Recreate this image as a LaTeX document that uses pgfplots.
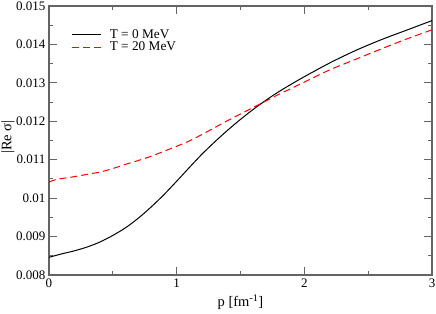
\documentclass[border=0pt]{standalone}
\usepackage{fontspec}
\setmainfont{Liberation Serif}
\usepackage{pgfplots}
\pgfplotsset{compat=1.18}
\pgfplotsset{
  blacklegend/.style={legend image code/.code={\draw[black, line width=1pt] (0pt,0pt) -- (29pt,0pt);}},
  redlegend/.style={legend image code/.code={\draw[red, line width=1pt, dash pattern=on 7pt off 4pt] (0pt,0pt) -- (29pt,0pt);}}
}
\definecolor{framegray}{RGB}{100,100,100}
\begin{document}
\begin{tikzpicture}
\useasboundingbox (-49pt,-38pt) rectangle (387pt,275pt);
\begin{axis}[
  at={(0pt,0pt)}, anchor=south west,
  scale only axis, width=383pt, height=269pt,
  xmin=0, xmax=3, ymin=0.008, ymax=0.015,
  xtick={0,1,2,3}, minor x tick num=1,
  ytick={0.008,0.009,0.010,0.011,0.012,0.013,0.014,0.015},
  yticklabels={0.008,0.009,0.01,0.011,0.012,0.013,0.014,0.015},
  minor y tick num=1,
  scaled y ticks=false,
  tick align=inside,
  major tick length=8pt, minor tick length=4pt,
  axis line style={framegray, line width=1.1pt},
  every tick/.style={framegray, line width=0.9pt},
  /pgf/number format/assume math mode=true,
  tick label style={font=\fontsize{13}{15}\selectfont, text=black},
  xlabel={\fontsize{14.5}{16}\selectfont p [fm\textsuperscript{-1}]},
  ylabel={\fontsize{14.5}{16}\selectfont |Re σ|},
  xlabel style={at={(axis description cs:0.5,-0.1)}, anchor=center},
  ylabel style={at={(axis description cs:-0.107,0.513)}, anchor=center},
  legend style={at={(axis description cs:0.059,0.916)}, anchor=north west,
    draw=none, fill=none, inner sep=0pt,
    font=\fontsize{13.3}{14}\selectfont,
    nodes={inner sep=1pt}, row sep=0pt,
    /tikz/every odd column/.append style={column sep=7pt}},
  legend cell align=left,
]
\addplot[black, line width=1pt, smooth, blacklegend] coordinates {
(0,0.00846) (0.1,0.00855) (0.2,0.00863) (0.3,0.00873) (0.4,0.00886)
(0.5,0.00903) (0.6,0.00923) (0.7,0.00948) (0.8,0.00977) (0.9,0.01009)
(1.0,0.01044) (1.1,0.01080) (1.2,0.01115) (1.3,0.01147) (1.4,0.01177)
(1.5,0.01205) (1.6,0.01231) (1.7,0.01255) (1.8,0.01277) (1.9,0.01297)
(2.0,0.01316) (2.2,0.01352) (2.4,0.01384) (2.6,0.01412) (2.8,0.01437)
(3.0,0.01462)};
\addlegendentry{T = 0 MeV}
\addplot[red, line width=1pt, dash pattern=on 7pt off 4pt, smooth, redlegend] coordinates {
(0,0.01042) (0.05,0.01048) (0.1,0.01051) (0.2,0.01056) (0.3,0.01062)
(0.4,0.01068) (0.5,0.01077) (0.6,0.01088) (0.7,0.01098) (0.8,0.01109)
(0.9,0.01122) (1.0,0.01135) (1.1,0.01149) (1.2,0.01166) (1.3,0.01184)
(1.4,0.01202) (1.5,0.01219) (1.6,0.01236) (1.7,0.01253) (1.8,0.01270)
(1.9,0.01286) (2.0,0.01302) (2.2,0.01334) (2.4,0.01361) (2.6,0.01388)
(2.8,0.01414) (3.0,0.01438)};
\addlegendentry{T = 20 MeV}
\end{axis}
\end{tikzpicture}
\end{document}
